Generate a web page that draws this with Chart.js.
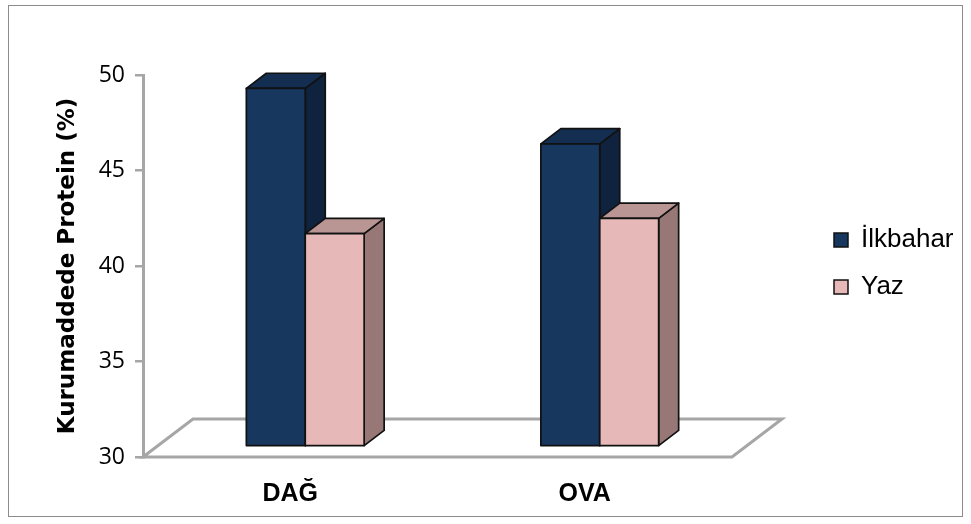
<!DOCTYPE html>
<html>
<head>
<meta charset="utf-8">
<title>Kurumaddede Protein</title>
<script src="https://cdn.jsdelivr.net/npm/chart.js@4.4.1/dist/chart.umd.min.js"></script>
<style>
  html, body { margin: 0; padding: 0; background: #fff; }
  #wrap { position: relative; width: 971px; height: 524px; }
</style>
</head>
<body>
<div id="wrap"><canvas id="chart" width="971" height="524"></canvas></div>
<script>
// ---- data ----
const categories = ['DAĞ', 'OVA'];
const seriesNames = ['İlkbahar', 'Yaz'];
const ilkbahar = [48.7, 45.8];
const yaz = [41.1, 41.9];
const yTicks = [30, 35, 40, 45, 50];

// ---- styling ----
const faces = [
  { front: '#17375e', top: '#132e50', side: '#0f233f' },
  { front: '#e6b9b8', top: '#b99594', side: '#977876' }
];
const axisGray = '#a6a6a6';
const floorDepth = { x: 50, y: 38 };   // oblique depth of the floor plane
const barFront = 0.3, barBack = 0.7;   // bar depth as a fraction of floor depth
const legendWidth = 239, legendInset = 81, legendTop = 206;

// Oblique 3-D floor and columns, drawn from the bar elements' own geometry
const depthColumns = {
  id: 'depthColumns',
  beforeUpdate(chart) {
    const lg = chart.legend;
    if (lg && !lg._fixedFit) {
      const fit = lg.fit;
      lg.fit = function () { fit.call(this); this.width = legendWidth; };
      lg._fixedFit = true;
    }
  },
  afterLayout(chart) {
    const lg = chart.legend;
    const w = lg.width;
    lg.left = chart.chartArea.right + legendInset;
    lg.right = lg.left + w;
    lg.top = legendTop;
    lg.bottom = chart.height;
  },
  beforeDraw(chart) {
    const ctx = chart.ctx;
    ctx.save();
    ctx.fillStyle = '#ffffff';
    ctx.fillRect(0, 0, chart.width, chart.height);
    ctx.strokeStyle = '#8c8c8c';
    ctx.lineWidth = 1;
    ctx.strokeRect(8.5, 5.5, 954, 511);
    ctx.restore();
  },
  beforeDatasetsDraw(chart) {
    const ctx = chart.ctx;
    const area = chart.chartArea;
    const yScale = chart.scales.y;
    const floorBase = yScale.getPixelForValue(yScale.min);

    // floor
    ctx.save();
    ctx.strokeStyle = axisGray;
    ctx.lineWidth = 3;
    ctx.lineJoin = 'miter';
    ctx.beginPath();
    ctx.moveTo(area.left, floorBase);
    ctx.lineTo(area.left + floorDepth.x, floorBase - floorDepth.y);
    ctx.lineTo(area.right + floorDepth.x, floorBase - floorDepth.y);
    ctx.lineTo(area.right, floorBase);
    ctx.closePath();
    ctx.stroke();
    ctx.restore();

    const fx = floorDepth.x * barFront, fy = floorDepth.y * barFront;
    const dx = floorDepth.x * (barBack - barFront), dy = floorDepth.y * (barBack - barFront);

    const poly = (pts, fill) => {
      ctx.beginPath();
      ctx.moveTo(pts[0][0], pts[0][1]);
      for (let k = 1; k < pts.length; k++) ctx.lineTo(pts[k][0], pts[k][1]);
      ctx.closePath();
      ctx.fillStyle = fill;
      ctx.fill();
      ctx.stroke();
    };

    ctx.save();
    ctx.strokeStyle = '#111111';
    ctx.lineWidth = 1.7;
    ctx.lineJoin = 'round';
    categories.forEach((_, i) => {
      chart.data.datasets.forEach((ds, d) => {
        const el = chart.getDatasetMeta(d).data[i];
        const p = el.getProps(['x', 'y', 'base', 'width'], true);
        const L = p.x - p.width / 2 + fx, R = p.x + p.width / 2 + fx;
        const T = p.y - fy, B = Math.min(p.base, floorBase) - fy;
        const c = faces[d];
        poly([[R, T], [R + dx, T - dy], [R + dx, B - dy], [R, B]], c.side);
        poly([[L, T], [L + dx, T - dy], [R + dx, T - dy], [R, T]], c.top);
        poly([[L, T], [R, T], [R, B], [L, B]], c.front);
      });
    });
    ctx.restore();
    return false;
  }
};

new Chart(document.getElementById('chart'), {
  type: 'bar',
  data: {
    labels: categories,
    datasets: [
      { label: seriesNames[0], data: ilkbahar, backgroundColor: faces[0].front,
        borderColor: '#111111', borderWidth: 1.5, categoryPercentage: 0.4, barPercentage: 1.0 },
      { label: seriesNames[1], data: yaz, backgroundColor: faces[1].front,
        borderColor: '#111111', borderWidth: 1.5, categoryPercentage: 0.4, barPercentage: 1.0 }
    ]
  },
  options: {
    responsive: false,
    devicePixelRatio: 1,
    animation: false,
    events: [],
    layout: { padding: { top: 75, left: 0, right: 0, bottom: 0 } },
    scales: {
      x: {
        grid: { display: false, drawTicks: false },
        border: { display: false },
        ticks: { color: '#000', padding: 22,
                 font: { family: 'Liberation Sans', size: 25, weight: 'bold' } },
        afterFit(s) { s.height = 67; }
      },
      y: {
        min: 30, max: 50,
        afterBuildTicks(s) { s.ticks = yTicks.map(v => ({ value: v })); },
        grid: { drawOnChartArea: false, drawTicks: true, tickLength: 8, color: axisGray, lineWidth: 2.5 },
        border: { display: true, color: axisGray, width: 3 },
        ticks: { color: '#000', padding: 10, font: { family: 'Open Sans', size: 23 } },
        title: { display: true, text: 'Kurumaddede Protein (%)', color: '#000',
                 padding: { top: 54, bottom: 0 },
                 font: { family: 'DejaVu Sans', size: 23, weight: 'bold' } },
        afterFit(s) { s.width = 143; }
      }
    },
    plugins: {
      tooltip: { enabled: false },
      legend: {
        position: 'right',
        align: 'start',
        labels: { boxWidth: 14, boxHeight: 14, padding: 21, color: '#000',
                  font: { family: 'Liberation Sans', size: 26 } }
      }
    }
  },
  plugins: [depthColumns]
});
</script>
</body>
</html>
